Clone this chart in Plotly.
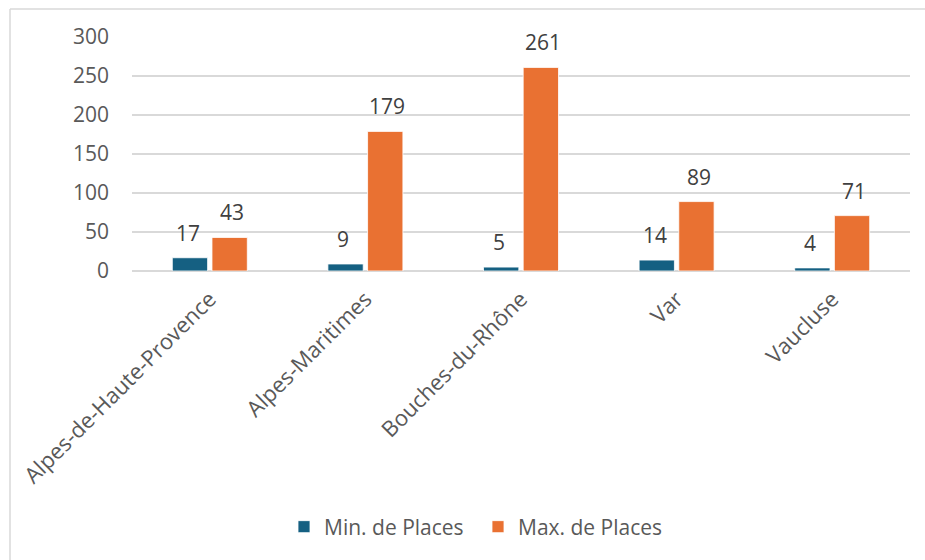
import plotly.graph_objects as go

categories = ["Alpes-de-Haute-Provence", "Alpes-Maritimes", "Bouches-du-Rhône", "Var", "Vaucluse"]
min_places = [17, 9, 5, 14, 4]
max_places = [43, 179, 261, 89, 71]
y_ticks = [0, 50, 100, 150, 200, 250, 300]

FONT = "Open Sans, Liberation Sans, Arial, sans-serif"
BLUE = "#156082"
ORANGE = "#E97132"

fig = go.Figure()
fig.add_trace(go.Bar(
    name="Min. de Places", x=categories, y=min_places,
    marker=dict(color=BLUE, line=dict(color="#ffffff", width=0.8)),
))
fig.add_trace(go.Bar(
    name="Max. de Places", x=categories, y=max_places,
    marker=dict(color=ORANGE, line=dict(color="#ffffff", width=0.8)),
))

# data labels above bars
annotations = []
for vals, dx in ((min_places, -22), (max_places, 22)):
    for c, v in zip(categories, vals):
        annotations.append(dict(
            x=c, y=v, xref="x", yref="y", text=str(v), showarrow=False,
            xshift=dx, yshift=25, yanchor="middle", xanchor="center",
            font=dict(size=21, color="#404040", family=FONT),
        ))

# plot area: x 132..910, y 37..271
L, R, T, B = 132, 910, 37, 271
W, H = R - L, B - T

fig.update_layout(
    width=925, height=560,
    margin=dict(l=L, r=925 - R, t=T, b=560 - B, autoexpand=False),
    paper_bgcolor="white", plot_bgcolor="white",
    barmode="group", bargap=0.49, bargroupgap=0.11,
    font=dict(family=FONT, color="#595959", size=21),
    showlegend=True,
    legend=dict(
        orientation="h", x=(284 - L) / W, xanchor="left",
        y=(B - 527) / H, yanchor="middle",
        font=dict(size=21, color="#595959", family=FONT),
        traceorder="normal", entrywidth=149, entrywidthmode="pixels",
    ),
    xaxis=dict(
        tickangle=-45, showgrid=False, showline=False, ticks="",
        automargin=False, ticklabelstandoff=10,
        tickfont=dict(size=22, color="#595959", family=FONT),
    ),
    yaxis=dict(
        range=[0, 300], tickvals=y_ticks, showgrid=True, automargin=False,
        gridcolor="#d9d9d9", gridwidth=1.5, zeroline=True,
        zerolinecolor="#d9d9d9", zerolinewidth=1.5, showline=False,
        ticks="", tickfont=dict(size=21, color="#595959", family=FONT),
        ticklabelstandoff=22,
    ),
    annotations=annotations,
    shapes=[
        dict(type="line", xref="paper", yref="paper",
             x0=(10 - L) / W, x1=(10 - L) / W,
             y0=(B - 9) / H, y1=(B - 562) / H,
             line=dict(color="#d9d9d9", width=1.5)),
        dict(type="line", xref="paper", yref="paper",
             x0=(10 - L) / W, x1=(927 - L) / W,
             y0=(B - 9) / H, y1=(B - 9) / H,
             line=dict(color="#d9d9d9", width=1.5)),
    ],
)

fig.write_html("out.html", config={"displayModeBar": False},
               post_script="document.body.style.margin='0';")
